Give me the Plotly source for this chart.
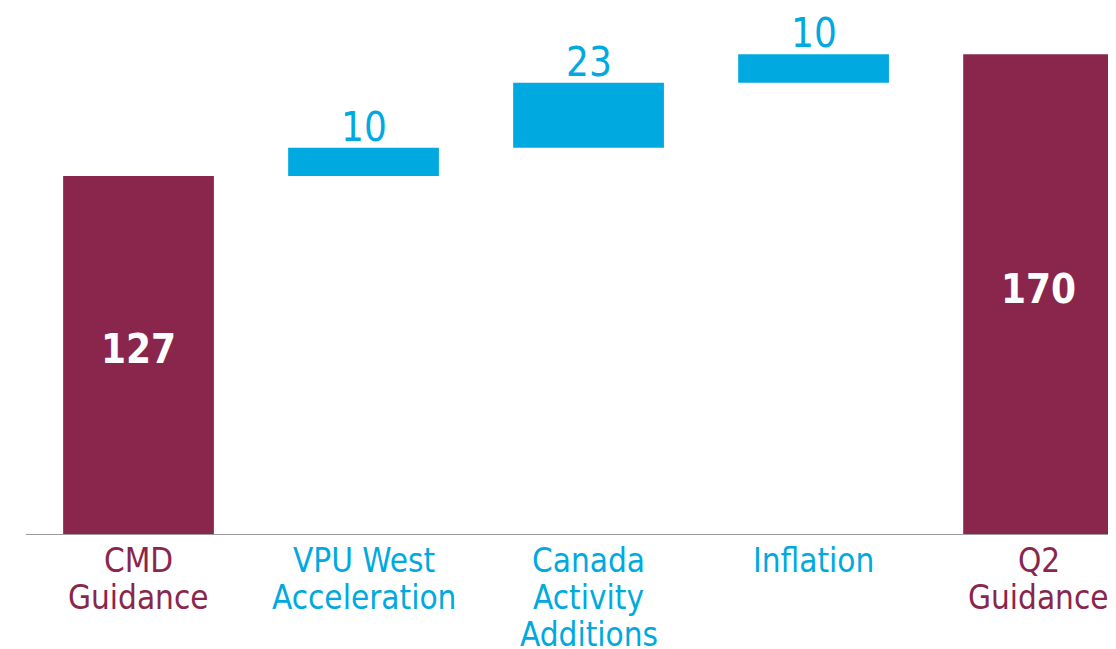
import plotly.graph_objects as go

# waterfall data
categories = ["CMD Guidance", "VPU West Acceleration", "Canada Activity Additions",
              "Inflation", "Q2 Guidance"]
label_lines = [["CMD", "Guidance"], ["VPU West", "Acceleration"],
               ["Canada", "Activity", "Additions"], ["Inflation"], ["Q2", "Guidance"]]
measures = ["absolute", "relative", "relative", "relative", "total"]
values = [127, 10, 23, 10, 170]
value_text = ["127", "10", "23", "10", "170"]

MAROON = "#8A264B"
BLUE = "#00A9E0"
FONT = "DejaVu Sans Condensed, Roboto, sans-serif"

# floating bars: relative steps sit on the running total
bases, running = [], 0
for m, v in zip(measures, values):
    if m == "relative":
        bases.append(running)
        running += v
    else:
        bases.append(0)
        running = v

is_total = [m != "relative" for m in measures]

fig = go.Figure(go.Bar(
    x=list(range(len(categories))),
    y=values,
    base=bases,
    marker=dict(color=[MAROON if t else BLUE for t in is_total], line=dict(width=0)),
    width=0.67,
    hoverinfo="skip",
))

# value labels: white bold inside the totals, blue above the steps
for i, (b, v, txt) in enumerate(zip(bases, values, value_text)):
    if is_total[i]:
        fig.add_annotation(x=i, y=b + v / 2, text=f"<b>{txt}</b>", showarrow=False,
                           yanchor="middle", yshift=6,
                           font=dict(family=FONT, size=40, color="white"))
    else:
        fig.add_annotation(x=i, y=b + v, text=txt, showarrow=False,
                           yanchor="bottom", yshift=-4,
                           font=dict(family=FONT, size=40, color=BLUE))

# the page puts the figure 8px in from the window corner
PLOT_H = 527
for i, lines in enumerate(label_lines):
    color = MAROON if is_total[i] else BLUE
    for j, line in enumerate(lines):
        pix = 560 + 37 * j - 8  # centre of the text line, figure pixels
        fig.add_annotation(
            x=i, y=(PLOT_H - pix) / PLOT_H, xref="x", yref="paper",
            text=line, showarrow=False, yanchor="middle", borderpad=0,
            font=dict(family=FONT, size=33, color=color),
        )

fig.update_layout(
    width=1108, height=641,
    margin=dict(l=18, r=0, t=0, b=114),
    plot_bgcolor="white", paper_bgcolor="white",
    showlegend=False,
    xaxis=dict(range=[-0.5, 4.344], showticklabels=False, showgrid=False,
               zeroline=False, showline=False, fixedrange=True),
    yaxis=dict(range=[0, 186.4], visible=False, fixedrange=True),
    shapes=[dict(type="line", xref="paper", yref="y", x0=0, x1=1, y0=0, y1=0,
                 line=dict(color="#9B9B9B", width=2))],
)

fig.write_html("out.html")
